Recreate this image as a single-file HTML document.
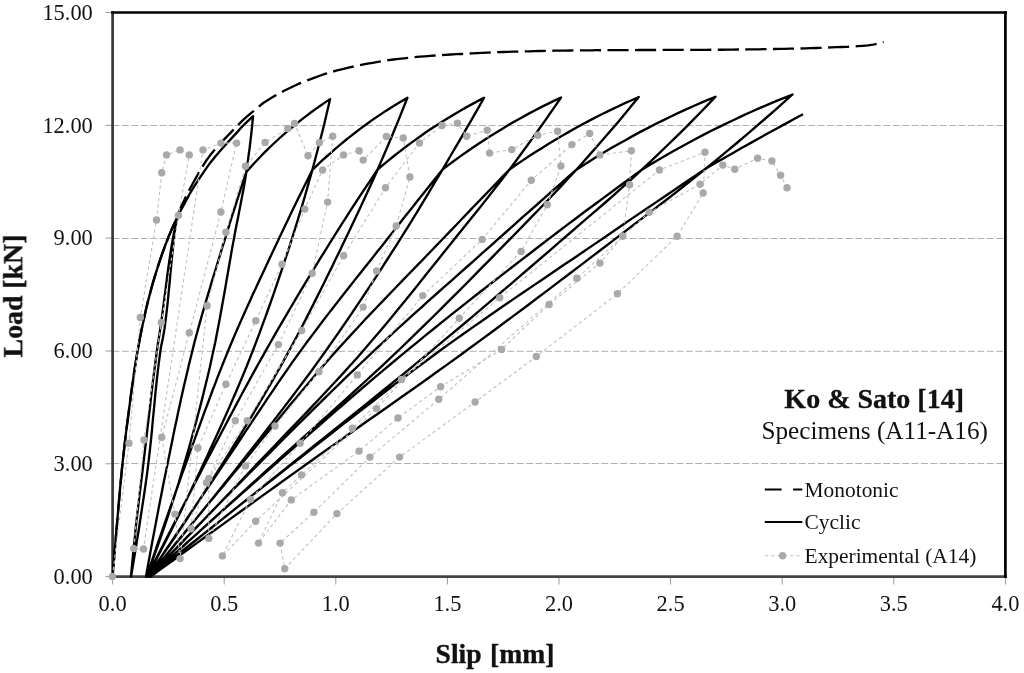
<!DOCTYPE html>
<html><head><meta charset="utf-8"><title>Load-Slip</title>
<style>
html,body{margin:0;padding:0;background:#fff;}
body{width:1024px;height:673px;overflow:hidden;font-family:"Liberation Serif",serif;}
svg{display:block;}
.b{filter:blur(0.35px);}
text{font-family:"Liberation Serif",serif;fill:#111;}
</style></head><body>
<svg width="1024" height="673" viewBox="0 0 1024 673">
<rect width="1024" height="673" fill="#fff"/>
<g stroke="#b0b0b0" stroke-width="1" stroke-dasharray="6.9 2.5" fill="none"><line x1="112.6" x2="1005.4" y1="463.5" y2="463.5"/><line x1="112.6" x2="1005.4" y1="351.3" y2="351.3"/><line x1="112.6" x2="1005.4" y1="238.5" y2="238.5"/><line x1="112.6" x2="1005.4" y1="125.5" y2="125.5"/></g>
<g stroke="#9a9a9a" stroke-width="1" fill="none"><line x1="105.5" x2="112.6" y1="576.6" y2="576.6"/><line x1="105.5" x2="112.6" y1="463.8" y2="463.8"/><line x1="105.5" x2="112.6" y1="351.0" y2="351.0"/><line x1="105.5" x2="112.6" y1="238.1" y2="238.1"/><line x1="105.5" x2="112.6" y1="125.3" y2="125.3"/><line x1="105.5" x2="112.6" y1="12.5" y2="12.5"/><line x1="112.6" x2="112.6" y1="576.6" y2="584.5"/><line x1="224.2" x2="224.2" y1="576.6" y2="584.5"/><line x1="335.8" x2="335.8" y1="576.6" y2="584.5"/><line x1="447.4" x2="447.4" y1="576.6" y2="584.5"/><line x1="559.0" x2="559.0" y1="576.6" y2="584.5"/><line x1="670.6" x2="670.6" y1="576.6" y2="584.5"/><line x1="782.2" x2="782.2" y1="576.6" y2="584.5"/><line x1="893.8" x2="893.8" y1="576.6" y2="584.5"/><line x1="1005.4" x2="1005.4" y1="576.6" y2="584.5"/></g>
<g font-size="22.4px" class="b"><text x="92.8" y="583.9" text-anchor="end">0.00</text><text x="92.8" y="471.1" text-anchor="end">3.00</text><text x="92.8" y="358.3" text-anchor="end">6.00</text><text x="92.8" y="245.4" text-anchor="end">9.00</text><text x="92.8" y="132.6" text-anchor="end">12.00</text><text x="92.8" y="19.8" text-anchor="end">15.00</text><text x="112.6" y="611" text-anchor="middle">0.0</text><text x="224.2" y="611" text-anchor="middle">0.5</text><text x="335.8" y="611" text-anchor="middle">1.0</text><text x="447.4" y="611" text-anchor="middle">1.5</text><text x="559.0" y="611" text-anchor="middle">2.0</text><text x="670.6" y="611" text-anchor="middle">2.5</text><text x="782.2" y="611" text-anchor="middle">3.0</text><text x="893.8" y="611" text-anchor="middle">3.5</text><text x="1005.4" y="611" text-anchor="middle">4.0</text></g>
<g class="b"><text transform="translate(22.2,296) rotate(-90)" font-size="27.8px" font-weight="bold" text-anchor="middle" stroke="#111" stroke-width="0.35">Load [kN]</text>
<text x="495" y="663" font-size="27.6px" font-weight="bold" text-anchor="middle" word-spacing="1.5" stroke="#111" stroke-width="0.35">Slip [mm]</text></g>
<g class="b"><line x1="112.6" x2="112.6" y1="11.2" y2="578" stroke="#3a3a3a" stroke-width="2.7"/>
<line x1="111.3" x2="1006.8" y1="576.6" y2="576.6" stroke="#444" stroke-width="2.7"/>
<line x1="111.3" x2="1006.8" y1="12.5" y2="12.5" stroke="#000" stroke-width="2.6"/>
<line x1="1005.4" x2="1005.4" y1="11.2" y2="578" stroke="#000" stroke-width="2.7"/>
<path d="M112.6,576.6 L113.3,567.4 L114.1,558.2 L114.8,549.1 L115.6,539.9 L116.4,530.7 L117.2,521.5 L118.0,512.3 L118.8,503.1 L119.6,494.0 L120.4,484.8 L121.3,475.6 L122.2,466.4 L123.2,457.2 L124.2,448.1 L125.3,438.9 L126.4,429.7 L127.6,420.5 L128.8,411.3 L130.0,402.1 L131.2,393.0 L132.5,383.8 L133.8,374.6 L135.2,365.4 L136.7,356.2 L138.3,347.0 L140.0,337.9 L141.8,328.7 L143.8,319.5 L145.8,310.3 L148.0,301.1 L150.4,292.0 L152.9,282.8 L155.7,273.6 L158.6,264.4 L161.7,255.2 L165.0,246.0 L168.5,236.9 L172.4,227.7 L176.7,218.5 L176.7,218.5 L177.6,215.8 L178.6,213.0 L179.7,210.3 L180.8,207.5 L182.1,204.8 L183.4,202.0 L184.7,199.3 L186.0,196.5 L187.4,193.8 L188.8,191.0 L190.2,188.3 L191.7,185.5 L193.2,182.8 L194.7,180.1 L196.2,177.3 L197.8,174.6 L199.3,171.8 L200.9,169.1 L202.6,166.3 L204.3,163.6 L206.1,160.8 L208.1,158.1 L210.2,155.3 L212.4,152.6 L214.7,149.8 L217.1,147.1 L219.5,144.4 L222.0,141.6 L224.7,138.9 L227.3,136.1 L230.0,133.4 L232.6,130.6 L235.3,127.9 L237.9,125.1 L240.7,122.4 L243.5,119.6 L246.5,116.9 L249.8,114.1 L253.2,111.4 L263.2,103.0 L268.4,99.7 L273.6,96.6 L278.8,93.6 L284.1,90.8 L289.3,88.2 L294.5,85.7 L299.7,83.4 L304.9,81.3 L310.1,79.3 L315.3,77.3 L320.5,75.5 L325.8,73.7 L331.0,72.1 L336.2,70.7 L341.4,69.4 L346.6,68.1 L351.8,66.9 L357.0,65.8 L362.3,64.7 L367.5,63.7 L372.7,62.8 L377.9,61.9 L383.1,61.0 L388.3,60.2 L393.5,59.5 L398.7,58.9 L404.0,58.3 L409.2,57.8 L414.4,57.2 L419.6,56.7 L424.8,56.3 L430.0,55.8 L435.2,55.5 L440.5,55.1 L445.7,54.8 L450.9,54.5 L456.1,54.2 L461.3,54.0 L466.5,53.7 L471.7,53.4 L477.0,53.1 L482.2,52.9 L487.4,52.6 L492.6,52.4 L497.8,52.2 L503.0,52.0 L508.2,51.9 L513.4,51.7 L518.7,51.6 L523.9,51.4 L529.1,51.3 L534.3,51.2 L539.5,51.0 L544.7,50.9 L549.9,50.8 L555.2,50.7 L560.4,50.6 L565.6,50.6 L570.8,50.5 L576.0,50.4 L581.2,50.4 L586.4,50.3 L591.6,50.3 L596.9,50.2 L602.1,50.2 L607.3,50.2 L612.5,50.1 L617.7,50.1 L622.9,50.1 L628.1,50.1 L633.4,50.1 L638.6,50.0 L643.8,50.0 L649.0,50.0 L654.2,50.0 L659.4,50.0 L664.6,49.9 L669.8,49.9 L675.1,49.9 L680.3,49.9 L685.5,49.9 L690.7,49.8 L695.9,49.8 L701.1,49.8 L706.3,49.8 L711.6,49.7 L716.8,49.7 L722.0,49.7 L727.2,49.6 L732.4,49.6 L737.6,49.5 L742.8,49.5 L748.1,49.4 L753.3,49.4 L758.5,49.3 L763.7,49.2 L768.9,49.1 L774.1,49.0 L779.3,48.9 L784.5,48.8 L789.8,48.7 L795.0,48.6 L800.2,48.5 L805.4,48.4 L810.6,48.2 L815.8,48.0 L821.0,47.8 L826.3,47.6 L831.5,47.4 L836.7,47.2 L841.9,47.0 L847.1,46.8 L852.3,46.5 L857.5,46.2 L862.7,45.8 L868.0,45.3 L873.2,44.6 L878.4,43.6 L883.6,42.0" fill="none" stroke="#000" stroke-width="2.35" stroke-dasharray="21.1 6.48" stroke-dashoffset="17.68" stroke-linejoin="round"/>
<path d="M112.6,576.6 L113.3,567.4 L114.1,558.2 L114.8,549.1 L115.6,539.9 L116.4,530.7 L117.2,521.5 L118.0,512.3 L118.8,503.1 L119.6,494.0 L120.4,484.8 L121.3,475.6 L122.2,466.4 L123.2,457.2 L124.2,448.1 L125.3,438.9 L126.4,429.7 L127.6,420.5 L128.8,411.3 L130.0,402.1 L131.2,393.0 L132.5,383.8 L133.8,374.6 L135.2,365.4 L136.7,356.2 L138.3,347.0 L140.0,337.9 L141.8,328.7 L143.8,319.5 L145.8,310.3 L148.0,301.1 L150.4,292.0 L152.9,282.8 L155.7,273.6 L158.6,264.4 L161.7,255.2 L165.0,246.0 L168.5,236.9 L172.4,227.7 L176.7,218.5 L176.7,218.5 L175.3,227.7 L174.1,236.9 L173.1,246.0 L172.2,255.2 L171.3,264.4 L170.4,273.6 L169.6,282.8 L168.7,292.0 L167.8,301.1 L166.8,310.3 L165.7,319.5 L164.5,328.7 L162.9,337.9 L161.0,347.0 L159.7,356.2 L158.5,365.4 L157.4,374.6 L156.4,383.8 L155.4,393.0 L154.6,402.1 L153.7,411.3 L152.8,420.5 L152.0,429.7 L151.1,438.9 L150.1,448.1 L149.1,457.2 L148.0,466.4 L146.8,475.6 L145.5,484.8 L144.2,494.0 L142.8,503.1 L141.4,512.3 L140.0,521.5 L138.6,530.7 L137.1,539.9 L135.6,549.1 L134.1,558.2 L132.6,567.4 L131.0,576.6 L131.0,576.6 L131.8,567.3 L132.7,558.0 L133.6,548.7 L134.6,539.5 L135.5,530.2 L136.5,520.9 L137.6,511.6 L138.7,502.3 L139.8,493.0 L140.9,483.8 L142.1,474.5 L143.2,465.2 L144.3,455.9 L145.4,446.6 L146.5,437.3 L147.5,428.0 L148.6,418.8 L149.7,409.5 L150.7,400.2 L151.8,390.9 L152.9,381.6 L154.1,372.3 L155.3,363.1 L156.5,353.8 L157.8,344.5 L159.3,335.2 L160.7,325.9 L162.0,316.6 L163.2,307.3 L164.4,298.1 L165.6,288.8 L166.8,279.5 L168.0,270.2 L169.3,260.9 L170.7,251.6 L172.2,242.4 L173.9,233.1 L176.0,223.8 L178.5,214.5 L178.5,214.5 L179.9,212.0 L181.3,209.5 L182.7,206.9 L184.1,204.4 L185.4,201.9 L186.7,199.4 L188.1,196.9 L189.5,194.3 L190.9,191.8 L192.4,189.3 L193.9,186.8 L195.5,184.3 L197.2,181.8 L198.9,179.2 L200.6,176.7 L202.3,174.2 L204.0,171.7 L205.7,169.2 L207.5,166.6 L209.3,164.1 L211.3,161.6 L213.3,159.1 L215.3,156.6 L217.5,154.0 L219.6,151.5 L221.8,149.0 L224.1,146.5 L226.3,144.0 L228.7,141.4 L231.0,138.9 L233.3,136.4 L235.6,133.9 L237.9,131.4 L240.2,128.8 L242.5,126.3 L244.9,123.8 L247.5,121.3 L250.2,118.8 L253.1,116.2 L253.1,116.2 L252.3,124.1 L251.5,131.9 L250.6,139.7 L249.7,147.5 L248.6,155.3 L247.6,163.1 L246.5,170.9 L245.3,178.7 L244.0,186.5 L242.5,194.3 L241.0,202.1 L239.5,209.9 L238.0,217.7 L236.4,225.5 L234.9,233.3 L233.5,241.1 L232.0,248.9 L230.7,256.7 L229.3,264.5 L228.0,272.3 L226.6,280.1 L225.3,287.9 L223.9,295.7 L222.5,303.5 L221.1,311.3 L219.7,319.1 L218.2,326.9 L216.7,334.7 L215.2,342.5 L213.5,350.3 L211.8,358.1 L210.1,365.9 L208.3,373.7 L206.4,381.5 L204.5,389.3 L202.6,397.1 L200.6,404.9 L198.5,412.7 L196.5,420.5 L194.3,428.4 L192.2,436.2 L190.0,444.0 L187.8,451.8 L185.5,459.6 L183.2,467.4 L180.9,475.2 L178.6,483.0 L176.1,490.8 L173.7,498.6 L171.1,506.4 L168.6,514.2 L166.0,522.0 L163.3,529.8 L160.6,537.6 L157.9,545.4 L155.1,553.2 L152.3,561.0 L149.4,568.8 L146.5,576.6 L146.0,576.6 L147.2,569.7 L148.4,562.9 L149.7,556.0 L150.9,549.2 L152.2,542.3 L153.5,535.5 L154.8,528.6 L156.1,521.7 L157.4,514.9 L158.7,508.0 L160.0,501.2 L161.4,494.3 L162.7,487.5 L164.1,480.6 L165.5,473.7 L166.9,466.9 L168.3,460.0 L169.7,453.2 L171.1,446.3 L172.5,439.4 L173.9,432.6 L175.3,425.7 L176.8,418.9 L178.2,412.0 L179.7,405.2 L181.2,398.3 L182.7,391.4 L184.3,384.6 L185.9,377.7 L187.5,370.9 L189.1,364.0 L190.8,357.2 L192.5,350.3 L194.2,343.4 L196.0,336.6 L197.9,329.7 L199.8,322.9 L201.7,316.0 L203.7,309.2 L205.7,302.3 L207.7,295.4 L209.8,288.6 L211.8,281.7 L213.9,274.9 L216.0,268.0 L218.1,261.1 L220.2,254.3 L222.3,247.4 L224.5,240.6 L226.6,233.7 L228.7,226.9 L230.8,220.0 L233.0,213.1 L235.2,206.3 L237.4,199.4 L239.6,192.6 L241.8,185.7 L244.0,178.9 L246.3,172.0 L246.3,172.0 L250.2,167.6 L254.2,163.2 L258.2,159.0 L262.3,154.7 L266.4,150.6 L270.6,146.5 L274.9,142.5 L279.2,138.5 L283.5,134.6 L287.9,130.8 L292.4,127.0 L296.9,123.3 L301.5,119.6 L306.1,116.1 L310.8,112.5 L315.5,109.1 L320.3,105.7 L325.2,102.4 L330.1,99.1 L330.1,99.1 L328.2,107.2 L326.3,115.3 L324.4,123.4 L322.4,131.5 L320.3,139.6 L318.2,147.7 L316.1,155.8 L314.0,163.8 L311.8,171.9 L309.5,180.0 L307.2,188.1 L304.9,196.2 L302.5,204.3 L300.1,212.4 L297.6,220.5 L295.1,228.6 L292.6,236.7 L290.0,244.8 L287.4,252.9 L284.7,261.0 L282.0,269.1 L279.3,277.2 L276.6,285.2 L273.8,293.3 L271.0,301.4 L268.1,309.5 L265.2,317.6 L262.2,325.7 L259.2,333.8 L256.2,341.9 L253.1,350.0 L249.9,358.1 L246.7,366.2 L243.4,374.3 L240.0,382.4 L236.6,390.5 L233.1,398.5 L229.6,406.6 L226.0,414.7 L222.4,422.8 L218.7,430.9 L215.0,439.0 L211.3,447.1 L207.6,455.2 L203.8,463.3 L200.0,471.4 L196.2,479.5 L192.3,487.6 L188.4,495.7 L184.5,503.8 L180.5,511.9 L176.4,519.9 L172.4,528.0 L168.2,536.1 L164.1,544.2 L159.9,552.3 L155.7,560.4 L151.4,568.5 L147.1,576.6 L146.6,576.6 L148.9,569.7 L151.2,562.8 L153.6,555.9 L155.9,549.0 L158.2,542.1 L160.6,535.3 L163.0,528.4 L165.4,521.5 L167.8,514.6 L170.2,507.7 L172.6,500.8 L175.0,493.9 L177.5,487.0 L179.9,480.1 L182.4,473.2 L184.9,466.3 L187.4,459.4 L189.8,452.6 L192.3,445.7 L194.8,438.8 L197.3,431.9 L199.8,425.0 L202.3,418.1 L204.8,411.2 L207.4,404.3 L210.0,397.4 L212.5,390.5 L215.2,383.6 L217.8,376.7 L220.5,369.9 L223.2,363.0 L226.0,356.1 L228.8,349.2 L231.7,342.3 L234.6,335.4 L237.6,328.5 L240.6,321.6 L243.7,314.7 L246.8,307.8 L249.9,300.9 L253.0,294.0 L256.2,287.2 L259.4,280.3 L262.6,273.4 L265.9,266.5 L269.1,259.6 L272.3,252.7 L275.6,245.8 L278.8,238.9 L282.1,232.0 L285.4,225.1 L288.7,218.2 L292.0,211.3 L295.3,204.5 L298.7,197.6 L302.1,190.7 L305.5,183.8 L308.9,176.9 L312.3,170.0 L312.3,170.0 L316.8,165.6 L321.4,161.2 L326.1,157.0 L330.8,152.8 L335.5,148.6 L340.3,144.6 L345.2,140.5 L350.1,136.6 L355.1,132.7 L360.1,128.9 L365.1,125.2 L370.2,121.5 L375.4,117.9 L380.6,114.4 L385.8,110.9 L391.2,107.5 L396.5,104.2 L401.9,100.9 L407.4,97.7 L407.4,97.7 L404.2,105.8 L401.0,113.9 L397.7,122.1 L394.3,130.2 L391.0,138.3 L387.6,146.4 L384.1,154.5 L380.6,162.6 L377.1,170.8 L373.5,178.9 L369.8,187.0 L366.1,195.1 L362.3,203.2 L358.6,211.3 L354.7,219.5 L350.9,227.6 L347.0,235.7 L343.1,243.8 L339.2,251.9 L335.2,260.0 L331.3,268.2 L327.3,276.3 L323.3,284.4 L319.3,292.5 L315.2,300.6 L311.1,308.7 L307.0,316.9 L302.8,325.0 L298.6,333.1 L294.2,341.2 L289.9,349.3 L285.5,357.4 L281.0,365.6 L276.4,373.7 L271.8,381.8 L267.1,389.9 L262.4,398.0 L257.6,406.1 L252.8,414.3 L247.9,422.4 L243.0,430.5 L238.1,438.6 L233.1,446.7 L228.1,454.8 L223.0,463.0 L217.9,471.1 L212.8,479.2 L207.6,487.3 L202.4,495.4 L197.1,503.5 L191.8,511.7 L186.4,519.8 L181.0,527.9 L175.6,536.0 L170.1,544.1 L164.6,552.2 L159.0,560.4 L153.4,568.5 L147.7,576.6 L147.2,576.6 L150.7,569.7 L154.1,562.8 L157.6,555.9 L161.1,549.0 L164.6,542.1 L168.1,535.2 L171.7,528.3 L175.2,521.4 L178.8,514.5 L182.3,507.6 L185.9,500.7 L189.4,493.8 L193.0,486.9 L196.6,480.0 L200.2,473.1 L203.8,466.2 L207.4,459.3 L211.1,452.4 L214.7,445.5 L218.3,438.6 L221.9,431.7 L225.6,424.8 L229.2,417.9 L232.9,411.0 L236.5,404.1 L240.2,397.2 L243.9,390.3 L247.7,383.4 L251.4,376.5 L255.2,369.6 L259.0,362.7 L262.9,355.8 L266.8,348.9 L270.7,342.0 L274.6,335.1 L278.6,328.2 L282.6,321.3 L286.7,314.4 L290.7,307.5 L294.8,300.6 L298.9,293.7 L303.0,286.8 L307.2,279.9 L311.4,273.0 L315.6,266.1 L319.8,259.2 L324.1,252.3 L328.4,245.4 L332.7,238.5 L337.0,231.6 L341.4,224.7 L345.8,217.8 L350.2,210.9 L354.7,204.0 L359.2,197.1 L363.8,190.2 L368.4,183.3 L373.0,176.4 L377.6,169.5 L377.6,169.5 L382.8,165.1 L388.0,160.8 L393.3,156.5 L398.6,152.3 L404.0,148.2 L409.4,144.1 L414.9,140.1 L420.4,136.2 L425.9,132.3 L431.5,128.6 L437.2,124.9 L442.9,121.2 L448.6,117.7 L454.4,114.2 L460.3,110.7 L466.2,107.4 L472.1,104.1 L478.1,100.9 L484.1,97.7 L484.1,97.7 L479.5,105.8 L474.9,113.9 L470.2,122.1 L465.5,130.2 L460.8,138.3 L456.1,146.4 L451.3,154.5 L446.6,162.6 L441.8,170.8 L436.9,178.9 L432.1,187.0 L427.3,195.1 L422.4,203.2 L417.5,211.3 L412.5,219.5 L407.5,227.6 L402.4,235.7 L397.3,243.8 L392.1,251.9 L386.9,260.0 L381.7,268.2 L376.4,276.3 L371.1,284.4 L365.7,292.5 L360.3,300.6 L354.9,308.7 L349.4,316.9 L343.8,325.0 L338.2,333.1 L332.6,341.2 L326.9,349.3 L321.1,357.4 L315.2,365.6 L309.3,373.7 L303.3,381.8 L297.2,389.9 L291.1,398.0 L284.9,406.1 L278.7,414.3 L272.4,422.4 L266.1,430.5 L259.8,438.6 L253.5,446.7 L247.1,454.8 L240.7,463.0 L234.4,471.1 L227.9,479.2 L221.5,487.3 L215.0,495.4 L208.5,503.5 L201.9,511.7 L195.3,519.8 L188.7,527.9 L182.0,536.0 L175.4,544.1 L168.6,552.2 L161.9,560.4 L155.1,568.5 L148.3,576.6 L147.8,576.6 L152.5,569.7 L157.1,562.8 L161.8,555.9 L166.4,549.0 L171.1,542.1 L175.7,535.2 L180.4,528.3 L185.0,521.4 L189.7,514.5 L194.4,507.6 L199.0,500.7 L203.7,493.8 L208.4,486.9 L213.0,480.0 L217.7,473.1 L222.4,466.2 L227.0,459.3 L231.7,452.4 L236.3,445.5 L240.9,438.6 L245.4,431.7 L250.0,424.8 L254.6,417.9 L259.2,411.0 L263.8,404.1 L268.4,397.2 L273.1,390.3 L277.7,383.4 L282.5,376.5 L287.3,369.6 L292.1,362.7 L297.0,355.8 L302.0,348.9 L307.0,342.0 L312.2,335.1 L317.4,328.2 L322.6,321.3 L327.9,314.4 L333.3,307.5 L338.6,300.6 L344.0,293.7 L349.5,286.8 L354.9,279.9 L360.4,273.0 L365.9,266.1 L371.4,259.2 L376.8,252.3 L382.3,245.4 L387.7,238.5 L393.1,231.6 L398.6,224.7 L404.0,217.8 L409.5,210.9 L415.0,204.0 L420.5,197.1 L426.0,190.2 L431.5,183.3 L437.0,176.4 L442.5,169.5 L442.5,169.5 L448.3,165.1 L454.2,160.7 L460.2,156.4 L466.1,152.2 L472.2,148.0 L478.2,144.0 L484.3,140.0 L490.5,136.0 L496.7,132.2 L502.9,128.4 L509.2,124.6 L515.5,121.0 L521.9,117.4 L528.3,113.9 L534.7,110.5 L541.2,107.1 L547.8,103.9 L554.4,100.6 L561.0,97.5 L561.0,97.5 L555.5,105.6 L549.9,113.7 L544.2,121.9 L538.4,130.0 L532.6,138.1 L526.7,146.2 L520.8,154.3 L514.8,162.5 L508.7,170.6 L502.5,178.7 L496.2,186.8 L489.8,194.9 L483.4,203.1 L476.9,211.2 L470.4,219.3 L463.8,227.4 L457.3,235.5 L450.8,243.7 L444.3,251.8 L437.8,259.9 L431.3,268.0 L424.9,276.1 L418.4,284.3 L411.8,292.4 L405.3,300.5 L398.7,308.6 L392.0,316.7 L385.2,324.9 L378.4,333.0 L371.5,341.1 L364.5,349.2 L357.4,357.4 L350.1,365.5 L342.8,373.6 L335.3,381.7 L327.8,389.8 L320.1,398.0 L312.4,406.1 L304.7,414.2 L297.0,422.3 L289.2,430.4 L281.4,438.6 L273.6,446.7 L265.9,454.8 L258.1,462.9 L250.4,471.0 L242.7,479.2 L234.9,487.3 L227.2,495.4 L219.4,503.5 L211.6,511.6 L203.9,519.8 L196.0,527.9 L188.2,536.0 L180.4,544.1 L172.5,552.2 L164.7,560.4 L156.8,568.5 L148.9,576.6 L148.4,576.6 L154.1,569.7 L159.7,562.8 L165.4,555.9 L171.1,549.0 L176.7,542.1 L182.4,535.2 L188.1,528.3 L193.8,521.4 L199.5,514.5 L205.2,507.6 L210.9,500.7 L216.7,493.8 L222.4,486.9 L228.1,480.0 L233.8,473.1 L239.6,466.2 L245.3,459.3 L251.0,452.4 L256.7,445.5 L262.4,438.6 L268.1,431.7 L273.7,424.8 L279.4,417.9 L285.1,411.0 L290.8,404.1 L296.6,397.2 L302.4,390.3 L308.2,383.4 L314.0,376.5 L320.0,369.6 L325.9,362.7 L332.0,355.8 L338.1,348.9 L344.4,342.0 L350.7,335.1 L357.1,328.2 L363.5,321.3 L370.0,314.4 L376.6,307.5 L383.2,300.6 L389.8,293.7 L396.5,286.8 L403.1,279.9 L409.8,273.0 L416.5,266.1 L423.2,259.2 L429.9,252.3 L436.5,245.4 L443.2,238.5 L449.8,231.6 L456.4,224.7 L463.0,217.8 L469.6,210.9 L476.2,204.0 L482.9,197.1 L489.5,190.2 L496.2,183.3 L502.8,176.4 L509.5,169.5 L509.5,169.5 L515.9,165.0 L522.4,160.6 L528.9,156.3 L535.5,152.0 L542.1,147.9 L548.7,143.7 L555.4,139.7 L562.1,135.7 L568.9,131.9 L575.7,128.0 L582.5,124.3 L589.4,120.6 L596.3,117.0 L603.3,113.5 L610.3,110.1 L617.4,106.7 L624.4,103.4 L631.6,100.2 L638.8,97.0 L638.8,97.0 L632.1,105.1 L625.4,113.3 L618.6,121.4 L611.7,129.5 L604.7,137.6 L597.6,145.8 L590.4,153.9 L583.2,162.0 L575.9,170.2 L568.4,178.3 L560.9,186.4 L553.2,194.5 L545.4,202.7 L537.6,210.8 L529.7,218.9 L521.7,227.1 L513.8,235.2 L505.8,243.3 L497.9,251.4 L489.9,259.6 L481.9,267.7 L473.9,275.8 L465.9,284.0 L457.8,292.1 L449.7,300.2 L441.5,308.3 L433.3,316.5 L425.0,324.6 L416.7,332.7 L408.3,340.9 L399.9,349.0 L391.3,357.1 L382.7,365.3 L373.9,373.4 L365.1,381.5 L356.2,389.6 L347.3,397.8 L338.3,405.9 L329.3,414.0 L320.2,422.2 L311.2,430.3 L302.1,438.4 L293.1,446.5 L284.1,454.7 L275.1,462.8 L266.1,470.9 L257.2,479.1 L248.2,487.2 L239.3,495.3 L230.3,503.4 L221.3,511.6 L212.4,519.7 L203.4,527.8 L194.4,536.0 L185.5,544.1 L176.5,552.2 L167.5,560.3 L158.5,568.5 L149.5,576.6 L149.0,576.6 L155.6,569.7 L162.1,562.8 L168.7,555.9 L175.4,549.0 L182.0,542.1 L188.6,535.3 L195.3,528.4 L202.0,521.5 L208.7,514.6 L215.5,507.7 L222.2,500.8 L229.0,493.9 L235.8,487.0 L242.6,480.1 L249.4,473.2 L256.3,466.3 L263.1,459.4 L270.0,452.6 L276.9,445.7 L283.7,438.8 L290.6,431.9 L297.6,425.0 L304.5,418.1 L311.5,411.2 L318.4,404.3 L325.5,397.4 L332.5,390.5 L339.6,383.6 L346.7,376.7 L353.9,369.9 L361.1,363.0 L368.4,356.1 L375.7,349.2 L383.1,342.3 L390.5,335.4 L398.0,328.5 L405.6,321.6 L413.2,314.7 L420.9,307.8 L428.5,300.9 L436.3,294.0 L444.0,287.2 L451.8,280.3 L459.5,273.4 L467.3,266.5 L475.1,259.6 L482.8,252.7 L490.6,245.8 L498.3,238.9 L506.1,232.0 L513.8,225.1 L521.5,218.2 L529.3,211.3 L537.1,204.5 L544.8,197.6 L552.6,190.7 L560.4,183.8 L568.2,176.9 L576.0,170.0 L576.0,170.0 L583.0,165.5 L590.0,161.0 L597.1,156.6 L604.2,152.3 L611.3,148.1 L618.5,144.0 L625.8,139.9 L633.0,135.9 L640.3,131.9 L647.7,128.1 L655.0,124.3 L662.5,120.6 L669.9,117.0 L677.4,113.4 L685.0,109.9 L692.5,106.5 L700.2,103.2 L707.8,99.9 L715.5,96.8 L715.5,96.8 L707.8,104.9 L699.9,113.0 L691.9,121.1 L683.8,129.3 L675.6,137.4 L667.2,145.5 L658.8,153.7 L650.2,161.8 L641.6,169.9 L632.7,178.1 L623.7,186.2 L614.6,194.3 L605.3,202.5 L595.9,210.6 L586.5,218.7 L577.0,226.9 L567.6,235.0 L558.2,243.1 L548.8,251.3 L539.4,259.4 L530.0,267.5 L520.5,275.7 L511.0,283.8 L501.5,291.9 L491.9,300.1 L482.4,308.2 L472.8,316.3 L463.1,324.5 L453.4,332.6 L443.7,340.7 L433.9,348.9 L424.1,357.0 L414.2,365.1 L404.2,373.3 L394.2,381.4 L384.2,389.5 L374.1,397.7 L364.0,405.8 L353.9,413.9 L343.7,422.1 L333.6,430.2 L323.4,438.3 L313.2,446.5 L303.1,454.6 L292.9,462.7 L282.8,470.9 L272.6,479.0 L262.4,487.1 L252.3,495.3 L242.1,503.4 L231.9,511.5 L221.7,519.7 L211.5,527.8 L201.3,535.9 L191.1,544.1 L180.8,552.2 L170.6,560.3 L160.4,568.5 L150.1,576.6 L149.6,576.6 L157.1,569.7 L164.7,562.8 L172.3,555.9 L179.9,549.0 L187.5,542.1 L195.2,535.3 L202.8,528.4 L210.5,521.5 L218.2,514.6 L225.9,507.7 L233.6,500.8 L241.4,493.9 L249.2,487.0 L257.0,480.1 L264.8,473.2 L272.6,466.3 L280.4,459.4 L288.3,452.6 L296.1,445.7 L304.0,438.8 L311.8,431.9 L319.7,425.0 L327.6,418.1 L335.5,411.2 L343.5,404.3 L351.5,397.4 L359.5,390.5 L367.5,383.6 L375.7,376.7 L383.8,369.9 L392.0,363.0 L400.3,356.1 L408.7,349.2 L417.1,342.3 L425.5,335.4 L434.1,328.5 L442.6,321.6 L451.3,314.7 L459.9,307.8 L468.7,300.9 L477.4,294.0 L486.2,287.2 L495.1,280.3 L504.0,273.4 L512.9,266.5 L521.8,259.6 L530.8,252.7 L539.8,245.8 L548.8,238.9 L557.8,232.0 L566.9,225.1 L576.1,218.2 L585.3,211.3 L594.6,204.5 L603.9,197.6 L613.2,190.7 L622.6,183.8 L632.0,176.9 L641.5,170.0 L641.5,170.0 L649.1,165.3 L656.8,160.8 L664.4,156.3 L672.2,151.8 L679.9,147.5 L687.7,143.2 L695.5,139.0 L703.4,134.9 L711.3,130.8 L719.3,126.9 L727.3,123.0 L735.3,119.2 L743.3,115.4 L751.4,111.7 L759.6,108.1 L767.8,104.6 L776.0,101.2 L784.2,97.8 L792.5,94.5 L792.5,94.5 L783.4,102.7 L774.2,110.8 L764.8,119.0 L755.4,127.2 L745.8,135.4 L736.2,143.5 L726.4,151.7 L716.5,159.9 L706.6,168.0 L696.5,176.2 L686.2,184.4 L675.7,192.6 L665.2,200.7 L654.5,208.9 L643.8,217.1 L633.1,225.2 L622.4,233.4 L611.7,241.6 L601.0,249.8 L590.3,257.9 L579.5,266.1 L568.8,274.3 L558.0,282.4 L547.2,290.6 L536.3,298.8 L525.5,307.0 L514.5,315.1 L503.5,323.3 L492.5,331.5 L481.4,339.6 L470.3,347.8 L459.1,356.0 L447.8,364.1 L436.4,372.3 L425.0,380.5 L413.4,388.7 L401.9,396.8 L390.3,405.0 L378.6,413.2 L367.0,421.3 L355.4,429.5 L343.8,437.7 L332.2,445.9 L320.7,454.0 L309.2,462.2 L297.8,470.4 L286.4,478.5 L275.0,486.7 L263.6,494.9 L252.3,503.1 L240.9,511.2 L229.6,519.4 L218.3,527.6 L207.0,535.7 L195.7,543.9 L184.4,552.1 L173.2,560.3 L161.9,568.4 L150.7,576.6 L150.2,576.6 L158.8,569.7 L167.4,562.8 L176.0,555.8 L184.7,548.9 L193.4,542.0 L202.1,535.1 L210.8,528.2 L219.5,521.3 L228.2,514.3 L237.0,507.4 L245.7,500.5 L254.5,493.6 L263.3,486.7 L272.2,479.8 L281.0,472.8 L289.8,465.9 L298.7,459.0 L307.6,452.1 L316.4,445.2 L325.2,438.3 L334.1,431.3 L342.9,424.4 L351.8,417.5 L360.7,410.6 L369.6,403.7 L378.6,396.8 L387.6,389.8 L396.7,382.9 L405.8,376.0 L415.0,369.1 L424.3,362.2 L433.7,355.3 L443.2,348.3 L452.8,341.4 L462.5,334.5 L472.3,327.6 L482.2,320.7 L492.2,313.8 L502.2,306.8 L512.3,299.9 L522.4,293.0 L532.6,286.1 L542.8,279.2 L553.0,272.3 L563.2,265.3 L573.5,258.4 L583.7,251.5 L593.8,244.6 L604.0,237.7 L614.1,230.8 L624.3,223.8 L634.4,216.9 L644.6,210.0 L654.8,203.1 L665.0,196.2 L675.3,189.3 L685.5,182.3 L695.7,175.4 L706.0,168.5 L706.0,168.5 L711.1,165.6 L716.1,162.6 L721.2,159.7 L726.3,156.8 L731.3,153.9 L736.4,151.0 L741.5,148.1 L746.6,145.2 L751.7,142.4 L756.8,139.5 L761.9,136.7 L767.0,133.8 L772.2,131.0 L777.3,128.2 L782.4,125.4 L787.6,122.6 L792.7,119.8 L797.8,117.0 L803.0,114.2" fill="none" stroke="#000" stroke-width="2.35" stroke-linejoin="round"/></g>
<path d="M112.4,576.4 L129.0,443.3 L140.3,317.5 L156.5,220.0 L161.7,172.7 L166.5,154.9 L180.0,149.9 L189.3,154.9 L178.5,215.2 L161.3,322.5 L144.0,440.0 L133.7,548.6 L143.5,549.0 L203.0,149.9 L220.9,143.1 L236.6,143.1 L220.9,212.0 L189.3,332.8 L161.8,437.3 L174.9,514.1 L180.1,558.6 L207.1,305.7 L225.9,232.3 L245.5,166.3 L265.1,142.4 L287.8,128.5 L294.6,123.5 L308.0,155.8 L319.4,142.8 L332.7,136.2 L327.6,202.1 L312.2,273.3 L278.4,344.6 L235.3,420.7 L206.5,482.7 L191.0,528.8 L197.9,448.0 L225.9,384.2 L255.8,320.7 L282.0,264.2 L304.8,209.1 L322.6,170.0 L343.6,154.9 L359.1,150.8 L363.2,160.1 L386.4,136.5 L403.2,138.0 L409.9,177.0 L396.2,226.0 L376.6,271.0 L363.2,307.1 L319.0,371.7 L275.0,426.0 L245.4,465.9 L208.8,538.4 L208.8,478.5 L247.3,420.7 L301.7,330.5 L343.6,255.8 L385.5,187.7 L419.4,143.0 L442.0,125.5 L457.5,123.2 L466.7,136.2 L487.2,130.3 L489.6,153.1 L511.7,149.6 L537.7,135.3 L557.6,131.2 L560.9,166.0 L547.3,204.8 L521.1,251.4 L459.3,318.2 L376.6,408.6 L255.7,521.2 L222.4,555.9 L250.4,499.4 L300.1,443.3 L357.3,374.9 L422.8,295.6 L482.2,239.4 L531.3,180.2 L571.9,144.6 L589.7,133.5 L599.9,154.9 L631.4,150.8 L629.6,184.7 L622.7,236.2 L599.9,263.1 L549.1,304.5 L501.5,349.4 L440.6,386.8 L398.0,418.0 L359.0,451.1 L291.3,499.9 L258.5,543.1 L282.5,492.7 L301.5,474.9 L352.4,428.2 L401.6,379.4 L499.7,297.7 L659.4,170.0 L705.0,152.2 L703.2,193.0 L677.1,236.2 L617.4,293.8 L536.3,356.5 L475.1,402.0 L399.6,457.1 L336.9,513.6 L284.7,568.8 L280.1,543.1 L313.9,512.2 L369.9,457.1 L438.8,399.3 L576.9,278.3 L649.2,212.3 L700.0,184.3 L722.8,165.1 L734.8,169.2 L757.6,158.3 L771.9,161.0 L780.6,175.2 L787.0,187.7" fill="none" stroke="#c0c0c0" stroke-width="1.1" stroke-dasharray="3.4 2.9"/>
<g fill="#a9a9a9"><circle cx="112.4" cy="576.4" r="3.7"/><circle cx="129.0" cy="443.3" r="3.7"/><circle cx="140.3" cy="317.5" r="3.7"/><circle cx="156.5" cy="220.0" r="3.7"/><circle cx="161.7" cy="172.7" r="3.7"/><circle cx="166.5" cy="154.9" r="3.7"/><circle cx="180.0" cy="149.9" r="3.7"/><circle cx="189.3" cy="154.9" r="3.7"/><circle cx="178.5" cy="215.2" r="3.7"/><circle cx="161.3" cy="322.5" r="3.7"/><circle cx="144.0" cy="440.0" r="3.7"/><circle cx="133.7" cy="548.6" r="3.7"/><circle cx="143.5" cy="549.0" r="3.7"/><circle cx="203.0" cy="149.9" r="3.7"/><circle cx="220.9" cy="143.1" r="3.7"/><circle cx="236.6" cy="143.1" r="3.7"/><circle cx="220.9" cy="212.0" r="3.7"/><circle cx="189.3" cy="332.8" r="3.7"/><circle cx="161.8" cy="437.3" r="3.7"/><circle cx="174.9" cy="514.1" r="3.7"/><circle cx="180.1" cy="558.6" r="3.7"/><circle cx="207.1" cy="305.7" r="3.7"/><circle cx="225.9" cy="232.3" r="3.7"/><circle cx="245.5" cy="166.3" r="3.7"/><circle cx="265.1" cy="142.4" r="3.7"/><circle cx="287.8" cy="128.5" r="3.7"/><circle cx="294.6" cy="123.5" r="3.7"/><circle cx="308.0" cy="155.8" r="3.7"/><circle cx="319.4" cy="142.8" r="3.7"/><circle cx="332.7" cy="136.2" r="3.7"/><circle cx="327.6" cy="202.1" r="3.7"/><circle cx="312.2" cy="273.3" r="3.7"/><circle cx="278.4" cy="344.6" r="3.7"/><circle cx="235.3" cy="420.7" r="3.7"/><circle cx="206.5" cy="482.7" r="3.7"/><circle cx="191.0" cy="528.8" r="3.7"/><circle cx="197.9" cy="448.0" r="3.7"/><circle cx="225.9" cy="384.2" r="3.7"/><circle cx="255.8" cy="320.7" r="3.7"/><circle cx="282.0" cy="264.2" r="3.7"/><circle cx="304.8" cy="209.1" r="3.7"/><circle cx="322.6" cy="170.0" r="3.7"/><circle cx="343.6" cy="154.9" r="3.7"/><circle cx="359.1" cy="150.8" r="3.7"/><circle cx="363.2" cy="160.1" r="3.7"/><circle cx="386.4" cy="136.5" r="3.7"/><circle cx="403.2" cy="138.0" r="3.7"/><circle cx="409.9" cy="177.0" r="3.7"/><circle cx="396.2" cy="226.0" r="3.7"/><circle cx="376.6" cy="271.0" r="3.7"/><circle cx="363.2" cy="307.1" r="3.7"/><circle cx="319.0" cy="371.7" r="3.7"/><circle cx="275.0" cy="426.0" r="3.7"/><circle cx="245.4" cy="465.9" r="3.7"/><circle cx="208.8" cy="538.4" r="3.7"/><circle cx="208.8" cy="478.5" r="3.7"/><circle cx="247.3" cy="420.7" r="3.7"/><circle cx="301.7" cy="330.5" r="3.7"/><circle cx="343.6" cy="255.8" r="3.7"/><circle cx="385.5" cy="187.7" r="3.7"/><circle cx="419.4" cy="143.0" r="3.7"/><circle cx="442.0" cy="125.5" r="3.7"/><circle cx="457.5" cy="123.2" r="3.7"/><circle cx="466.7" cy="136.2" r="3.7"/><circle cx="487.2" cy="130.3" r="3.7"/><circle cx="489.6" cy="153.1" r="3.7"/><circle cx="511.7" cy="149.6" r="3.7"/><circle cx="537.7" cy="135.3" r="3.7"/><circle cx="557.6" cy="131.2" r="3.7"/><circle cx="560.9" cy="166.0" r="3.7"/><circle cx="547.3" cy="204.8" r="3.7"/><circle cx="521.1" cy="251.4" r="3.7"/><circle cx="459.3" cy="318.2" r="3.7"/><circle cx="376.6" cy="408.6" r="3.7"/><circle cx="255.7" cy="521.2" r="3.7"/><circle cx="222.4" cy="555.9" r="3.7"/><circle cx="250.4" cy="499.4" r="3.7"/><circle cx="300.1" cy="443.3" r="3.7"/><circle cx="357.3" cy="374.9" r="3.7"/><circle cx="422.8" cy="295.6" r="3.7"/><circle cx="482.2" cy="239.4" r="3.7"/><circle cx="531.3" cy="180.2" r="3.7"/><circle cx="571.9" cy="144.6" r="3.7"/><circle cx="589.7" cy="133.5" r="3.7"/><circle cx="599.9" cy="154.9" r="3.7"/><circle cx="631.4" cy="150.8" r="3.7"/><circle cx="629.6" cy="184.7" r="3.7"/><circle cx="622.7" cy="236.2" r="3.7"/><circle cx="599.9" cy="263.1" r="3.7"/><circle cx="549.1" cy="304.5" r="3.7"/><circle cx="501.5" cy="349.4" r="3.7"/><circle cx="440.6" cy="386.8" r="3.7"/><circle cx="398.0" cy="418.0" r="3.7"/><circle cx="359.0" cy="451.1" r="3.7"/><circle cx="291.3" cy="499.9" r="3.7"/><circle cx="258.5" cy="543.1" r="3.7"/><circle cx="282.5" cy="492.7" r="3.7"/><circle cx="301.5" cy="474.9" r="3.7"/><circle cx="352.4" cy="428.2" r="3.7"/><circle cx="401.6" cy="379.4" r="3.7"/><circle cx="499.7" cy="297.7" r="3.7"/><circle cx="659.4" cy="170.0" r="3.7"/><circle cx="705.0" cy="152.2" r="3.7"/><circle cx="703.2" cy="193.0" r="3.7"/><circle cx="677.1" cy="236.2" r="3.7"/><circle cx="617.4" cy="293.8" r="3.7"/><circle cx="536.3" cy="356.5" r="3.7"/><circle cx="475.1" cy="402.0" r="3.7"/><circle cx="399.6" cy="457.1" r="3.7"/><circle cx="336.9" cy="513.6" r="3.7"/><circle cx="284.7" cy="568.8" r="3.7"/><circle cx="280.1" cy="543.1" r="3.7"/><circle cx="313.9" cy="512.2" r="3.7"/><circle cx="369.9" cy="457.1" r="3.7"/><circle cx="438.8" cy="399.3" r="3.7"/><circle cx="576.9" cy="278.3" r="3.7"/><circle cx="649.2" cy="212.3" r="3.7"/><circle cx="700.0" cy="184.3" r="3.7"/><circle cx="722.8" cy="165.1" r="3.7"/><circle cx="734.8" cy="169.2" r="3.7"/><circle cx="757.6" cy="158.3" r="3.7"/><circle cx="771.9" cy="161.0" r="3.7"/><circle cx="780.6" cy="175.2" r="3.7"/><circle cx="787.0" cy="187.7" r="3.7"/></g>
<g class="b"><text x="874.2" y="407.5" font-size="28px" font-weight="bold" text-anchor="middle" stroke="#111" stroke-width="0.3">Ko &amp; Sato [14]</text>
<text x="874.7" y="439.3" font-size="25.2px" text-anchor="middle">Specimens (A11-A16)</text>
<line x1="764.8" x2="802.3" y1="489.5" y2="489.5" stroke="#000" stroke-width="2.1" stroke-dasharray="16.8 11.5"/>
<line x1="764.8" x2="802.3" y1="522" y2="522" stroke="#000" stroke-width="2.1"/></g>
<line x1="764.8" x2="801.3" y1="555.8" y2="555.8" stroke="#c0c0c0" stroke-width="1.1" stroke-dasharray="3.4 2.9"/>
<circle cx="782.6" cy="555.8" r="3.7" fill="#a9a9a9"/>
<g font-size="21.4px" class="b"><text x="804.6" y="496.5">Monotonic</text><text x="804.6" y="529.2">Cyclic</text><text x="804.6" y="562.7">Experimental (A14)</text></g>
</svg>
</body></html>
